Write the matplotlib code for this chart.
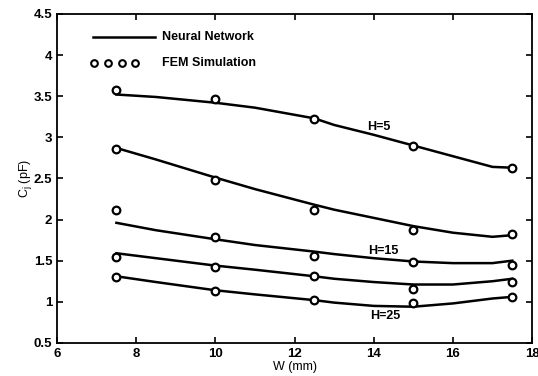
import matplotlib.pyplot as plt

plt.rcParams["font.family"] = ["Liberation Sans", "DejaVu Sans"]
plt.rcParams["font.weight"] = "bold"

# FEM simulation points
w_fem = [7.5, 10, 12.5, 15, 17.5]
fem_h5 = [3.57, 3.47, 3.22, 2.90, 2.63]
fem_h10 = [2.86, 2.48, 2.12, 1.87, 1.83]
fem_h15 = [2.11, 1.79, 1.56, 1.48, 1.45]
fem_h20 = [1.54, 1.42, 1.31, 1.16, 1.24]
fem_h25 = [1.30, 1.13, 1.02, 0.98, 1.06]

# neural network curves
w_nn = [7.5, 8.5, 10, 11, 12.5, 13, 14, 15, 16, 17, 17.5]
nn_h5 = [3.52, 3.49, 3.42, 3.36, 3.23, 3.15, 3.03, 2.90, 2.77, 2.64, 2.63]
nn_h10 = [2.87, 2.73, 2.51, 2.37, 2.18, 2.12, 2.02, 1.92, 1.84, 1.79, 1.81]
nn_h15 = [1.96, 1.87, 1.76, 1.69, 1.61, 1.58, 1.53, 1.49, 1.47, 1.47, 1.50]
nn_h20 = [1.59, 1.53, 1.44, 1.39, 1.31, 1.28, 1.24, 1.21, 1.21, 1.25, 1.28]
nn_h25 = [1.31, 1.24, 1.14, 1.09, 1.02, 0.99, 0.95, 0.94, 0.98, 1.04, 1.06]

fig = plt.figure(figsize=(5.38, 3.76), dpi=100)
ax = fig.add_axes([0.106, 0.088, 0.883, 0.875])

for fem, nn in [(fem_h5, nn_h5), (fem_h10, nn_h10), (fem_h15, nn_h15),
                (fem_h20, nn_h20), (fem_h25, nn_h25)]:
    ax.plot(w_nn, nn, color="black", linewidth=1.8)
    ax.plot(w_fem, fem, linestyle="none", marker="o", markersize=5.5,
            markerfacecolor="white", markeredgecolor="black", markeredgewidth=1.6)

ax.text(14.13, 3.13, "H=5", ha="center", va="center", fontsize=9)
ax.text(14.23, 1.62, "H=15", ha="center", va="center", fontsize=9)
ax.text(14.28, 0.83, "H=25", ha="center", va="center", fontsize=9)

# hand-made legend
ax.plot([0.076, 0.206], [0.93, 0.93], transform=ax.transAxes, color="black", linewidth=1.8)
ax.plot([0.078, 0.107, 0.136, 0.165], [0.851] * 4, transform=ax.transAxes, linestyle="none",
        marker="o", markersize=4.8, markerfacecolor="white", markeredgecolor="black",
        markeredgewidth=1.5)
ax.text(0.221, 0.93, "Neural Network", transform=ax.transAxes, va="center", fontsize=9)
ax.text(0.221, 0.851, "FEM Simulation", transform=ax.transAxes, va="center", fontsize=9)

ax.set_xlim(6, 18)
ax.set_ylim(0.5, 4.5)
ax.set_xticks([6, 8, 10, 12, 14, 16, 18])
ax.set_yticks([0.5, 1, 1.5, 2, 2.5, 3, 3.5, 4, 4.5])
ax.set_yticklabels(["0.5", "1", "1.5", "2", "2.5", "3", "3.5", "4", "4.5"])
ax.tick_params(direction="in", top=True, right=True, labelsize=9.5, length=4, width=1.2)
for s in ax.spines.values():
    s.set_linewidth(1.3)

ax.set_xlabel("W (mm)", fontsize=9, labelpad=1)
ax.set_ylabel(r"C$_\mathregular{j}$ (pF)", fontsize=9, labelpad=0)

fig.savefig("out.png", dpi=100)
